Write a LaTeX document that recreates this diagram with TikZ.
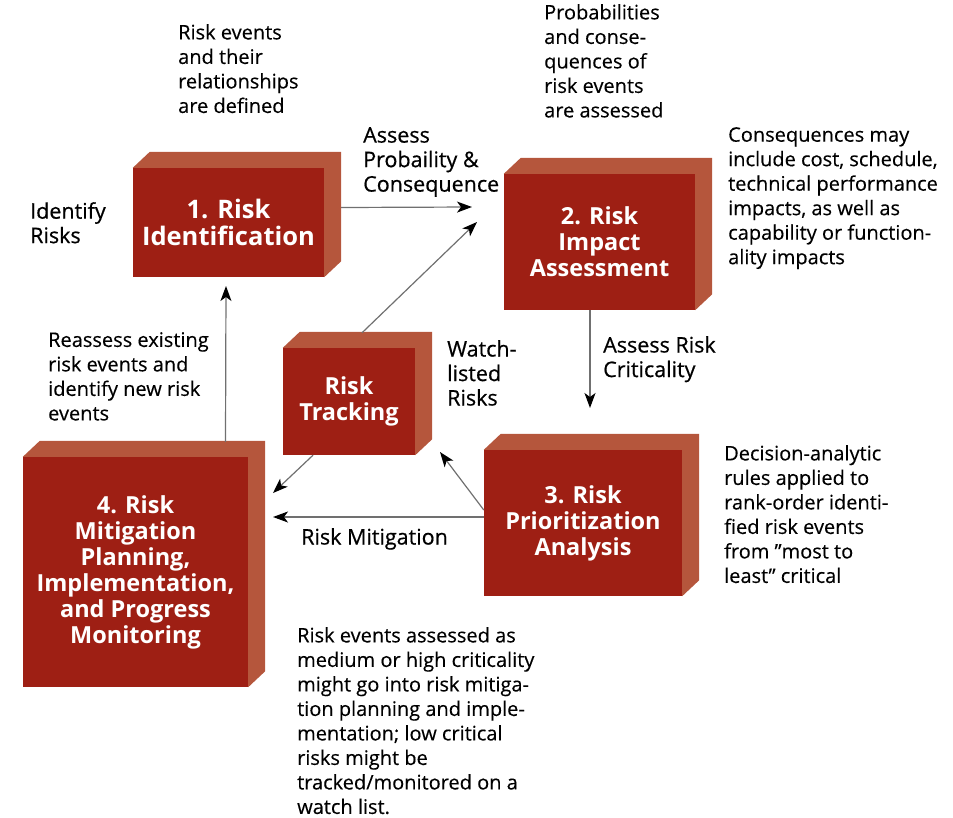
\documentclass[tikz,border=0pt]{standalone}
\usepackage{fontspec}
\setmainfont{Open Sans}
\newfontfamily\labelfont{Open Sans}[FakeBold=0.6,Ligatures=TeX]
\newfontfamily\notefont{Open Sans}[FakeBold=0.3,Ligatures=TeX]
\usetikzlibrary{calc,arrows.meta}

\definecolor{boxfront}{HTML}{9E1F14}
\definecolor{boxside}{HTML}{B5563C}
\definecolor{flowgray}{HTML}{707070}

\def\boxsides(#1){\fill[boxside] (#1.north west) -- ++(17,-16) -- ($(#1.north east)+(17,-16)$) -- ($(#1.south east)+(17,-16)$) -- (#1.south east) -- (#1.north east) -- cycle;}

\tikzset{
	riskbox/.style={fill=boxfront, text=white, align=center, inner sep=0pt,
		font=\bfseries\fontsize{23.5}{26}\selectfont},
	note/.style={anchor=north west, align=left, inner sep=0pt,
		font=\notefont\fontsize{20}{24.5}\selectfont},
	flowlabel/.style={note, font=\labelfont\fontsize{21.5}{24.5}\selectfont},
	flow/.style={draw=flowgray, line width=1.2pt,
		-{Stealth[length=15pt,width=11pt,inset=4pt,fill=black,color=black]}}
}

\begin{document}
\begin{tikzpicture}[x=1pt,y=-1pt]
			%%%%% FRAME %%%%%
			\useasboundingbox (0,0) rectangle (953,817);
			
			%%%%% BOXES %%%%%
			\node[riskbox, minimum width=191, minimum height=109, font=\bfseries\fontsize{25.5}{27}\selectfont] (ident) at (228.5,222.5) {1. Risk\\Identification};
			\boxsides(ident)
			
			\node[riskbox, minimum width=191, minimum height=136] (impact) at (599.5,242) {2. Risk\\Impact\\Assessment};
			\boxsides(impact)
			
			\node[riskbox, minimum width=198, minimum height=146] (prior) at (583,523) {3. Risk\\Prioritization\\Analysis};
			\boxsides(prior)
			
			\node[riskbox, minimum width=225, minimum height=230] (mitig) at (135.5,572) {4. Risk\\Mitigation\\Planning,\\Implementation,\\and Progress\\Monitoring};
			\boxsides(mitig)
			
			\node[riskbox, minimum width=132, minimum height=107] (track) at (349,401.5) {Risk\\Tracking};
			\boxsides(track)
			
			%%%%% ARROW ENDS %%%%%
			\coordinate (impactin) at (472,207);
			\coordinate (impactin2) at (477,222);
			\coordinate (priorin) at (590,408);
			\coordinate (trackin) at (440,452);
			\coordinate (mitigin) at (273,493);
			\coordinate (mitigin2) at (273,517);
			\coordinate (identin) at (226,286);
			
			%%%%% ARROWS %%%%%
			\draw[flow] ($(ident.east)+(17,-15)$) -- (impactin);
			\draw[flow] ($(track.north)+(13,-15)$) -- (impactin2);
			\draw[flow] (priorin |- impact.south) -- (priorin);
			\draw[flow] ($(prior.west)+(0,-13)$) -- (trackin);
			\draw[flow] ($(track.south)+(-36,0)$) -- (mitigin);
			\draw[flow] (prior.west |- mitigin2) -- (mitigin2);
			\draw[flow] ($(mitig.north)+(90,-15)$) -- (identin);
			
			%%%%% NOTES %%%%%
			\node[note] (n1) at (178,24) {Risk events\\and their\\relationships\\are defined};
			\node[note] (n2) at (544,4) {Probabilities\\and conse-\\quences of\\risk events\\are assessed};
			\node[flowlabel] (n3) at (363,127) {Assess\\Probaility \&\\Consequence};
			\node[flowlabel] (n4) at (30,202) {Identify\\Risks};
			\node[note] (n5) at (728,127) {Consequences may\\include cost, schedule,\\technical performance\\impacts, as well as\\capability or function-\\ality impacts};
			\node[note] (n6) at (48,332) {Reassess existing\\risk events and\\identify new risk\\events};
			\node[flowlabel] (n7) at (447,340) {Watch-\\listed\\Risks};
			\node[flowlabel] (n8) at (603,336) {Assess Risk\\Criticality};
			\node[note] (n9) at (724,445) {Decision-analytic\\rules applied to\\rank-order identi-\\fied risk events\\from ”most to\\least” critical};
			\node[flowlabel] (n10) at (301,528) {Risk Mitigation};
			\node[note] (n11) at (297,627) {Risk events assessed as\\medium or high criticality\\might go into risk mitiga-\\tion planning and imple-\\mentation; low critical\\risks might be\\tracked/monitored on a\\watch list.};
		\end{tikzpicture}
\end{document}
